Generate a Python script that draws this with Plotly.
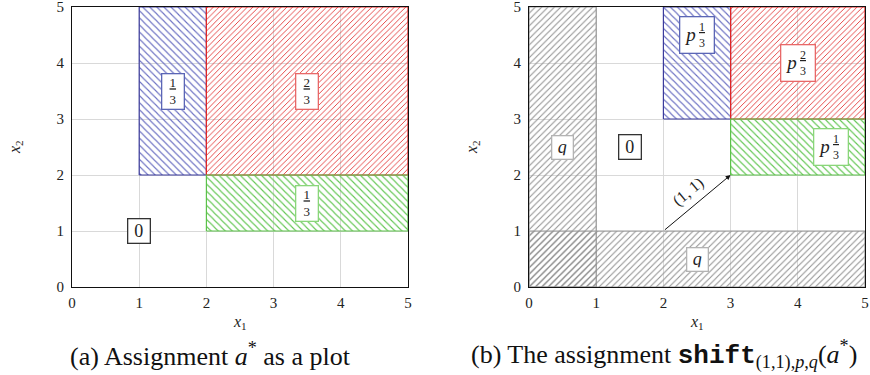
import plotly.graph_objects as go

# ---------------- data ----------------
tick_vals = [0, 1, 2, 3, 4, 5]

# panel (a): rectangles given by their edges
a_x0 = [1, 2, 2]
a_x1 = [2, 5, 5]
a_y0 = [2, 2, 1]
a_y1 = [5, 5, 2]
a_kind = ["blue", "red", "green"]

a_label_x = [1.5, 3.5, 3.5, 1.0]
a_label_y = [3.5, 3.5, 1.5, 1.0]
a_label_coef = ["", "", "", ""]
a_label_val = ["1/3", "2/3", "1/3", "0"]
a_label_kind = ["blue", "red", "green", "black"]

# panel (b): shifted assignment
b_x0 = [0, 0, 2, 3, 3]
b_x1 = [1, 5, 3, 5, 5]
b_y0 = [0, 0, 3, 3, 2]
b_y1 = [5, 1, 5, 5, 3]
b_kind = ["gray", "gray", "blue", "red", "green"]

b_label_x = [0.5, 2.5, 2.5, 4.0, 4.5, 1.5]
b_label_y = [2.5, 0.5, 4.5, 4.0, 2.5, 2.5]
b_label_coef = ["q", "q", "p", "p", "p", ""]
b_label_val = ["", "", "1/3", "2/3", "1/3", "0"]
b_label_kind = ["gray", "gray", "blue", "red", "green", "black"]

shift_start = [2, 1]
shift_vec = [1, 1]

caption_a = "(a) Assignment <i>a</i><sup>*</sup> as a plot"
caption_b = ("(b) The assignment <span style=\"font-family:'Liberation Mono', monospace\"><b>shift</b></span>"
             "<sub>(1,1),<i>p</i>,<i>q</i></sub>(<i>a</i><sup>*</sup>)")

# ---------------- styles ----------------
FONT = "'Liberation Serif', 'DejaVu Serif', serif"
TXT = "#222222"
STYLE = {
    "blue": dict(line="#3b3b9c", hatch="#6b70c2", shape="\\", size=5, box="#5b66b6"),
    "red": dict(line="#e02525", hatch="#e23434", shape="/", size=4, box="#e86868"),
    "green": dict(line="#5cc24a", hatch="#62c652", shape="\\", size=5, box="#8ad67a"),
    "gray": dict(line="#999999", hatch="#8e8e8e", shape="/", size=4.5, box="#b3b3b3"),
    "black": dict(box="#333333"),
}

W, H = 870, 375
def px(x):
    return x / W
def py(y):
    return 1 - y / H

fig = go.Figure()

def add_rects(x0s, x1s, y0s, y1s, kinds, xa, ya):
    for x0, x1, y0, y1, k in zip(x0s, x1s, y0s, y1s, kinds):
        s = STYLE[k]
        fig.add_trace(go.Scatter(
            x=[x0, x1, x1, x0, x0], y=[y0, y0, y1, y1, y0],
            mode="lines", fill="toself", fillcolor="rgba(0,0,0,0)",
            fillpattern=dict(shape=s["shape"], size=s["size"], solidity=0.22,
                             fgcolor=s["hatch"], bgcolor="rgba(0,0,0,0)",
                             fillmode="replace"),
            line=dict(color=s["line"], width=1.2),
            hoverinfo="skip", showlegend=False, xaxis=xa, yaxis=ya))

add_rects(a_x0, a_x1, a_y0, a_y1, a_kind, "x", "y")
add_rects(b_x0, b_x1, b_y0, b_y1, b_kind, "x2", "y2")

def frac(v):
    n, d = v.split("/")
    return "<u>%s</u><br>%s" % (n, d)

def add_labels(xs, ys, coefs, vals, kinds, xr, yr):
    for x, y, c, v, k in zip(xs, ys, coefs, vals, kinds):
        col = STYLE[k]["box"]
        base = dict(x=x, y=y, xref=xr, yref=yr, showarrow=False,
                    xanchor="center", yanchor="middle",
                    bgcolor="white", bordercolor=col, borderwidth=1.3)
        if c == "" and "/" in v:
            fig.add_annotation(text=frac(v), font=dict(family=FONT, size=13, color=TXT),
                               width=17, height=30, borderpad=2, **base)
        elif c == "":
            fig.add_annotation(text=v, font=dict(family=FONT, size=18, color=TXT),
                               width=15, height=17, borderpad=3, **base)
        elif v == "":
            fig.add_annotation(text="<i>%s</i>" % c, font=dict(family=FONT, size=18, color=TXT),
                               width=14, height=16, borderpad=3, **base)
        else:
            fig.add_annotation(text="<i>%s</i>" % c, font=dict(family=FONT, size=19, color=TXT),
                               width=25, height=27, borderpad=4, align="left", **base)
            fig.add_annotation(x=x, y=y, xref=xr, yref=yr, showarrow=False,
                               xanchor="center", yanchor="middle",
                               text=frac(v), font=dict(family=FONT, size=12, color=TXT),
                               xshift=5)

add_labels(a_label_x, a_label_y, a_label_coef, a_label_val, a_label_kind, "x", "y")
add_labels(b_label_x, b_label_y, b_label_coef, b_label_val, b_label_kind, "x2", "y2")

# shift arrow
end = [shift_start[0] + shift_vec[0], shift_start[1] + shift_vec[1]]
fig.add_annotation(x=end[0], y=end[1], ax=shift_start[0], ay=shift_start[1],
                   xref="x2", yref="y2", axref="x2", ayref="y2", text="",
                   showarrow=True, arrowhead=2, arrowsize=1, arrowwidth=1,
                   arrowcolor="#111111", standoff=0, startstandoff=0)
fig.add_annotation(x=(shift_start[0] + end[0]) / 2, y=(shift_start[1] + end[1]) / 2,
                   xref="x2", yref="y2", showarrow=False, xanchor="center", yanchor="middle",
                   text="(%d, %d)" % tuple(shift_vec), textangle=-40,
                   font=dict(family=FONT, size=16, color=TXT), xshift=-9, yshift=11)

# axis titles
for cx in [(72 + 408) / 2, (529 + 865) / 2]:
    fig.add_annotation(x=px(cx), y=py(322), xref="paper", yref="paper", showarrow=False,
                       xanchor="center", yanchor="middle",
                       text="<i>x</i><sub>1</sub>", font=dict(family=FONT, size=16, color=TXT))
for cx in [15, 472]:
    fig.add_annotation(x=px(cx), y=py(147), xref="paper", yref="paper", showarrow=False,
                       xanchor="center", yanchor="middle",
                       text="<i>x</i><sub>2</sub>", textangle=-90,
                       font=dict(family=FONT, size=16, color=TXT))

# captions
fig.add_annotation(x=px(210), y=py(354), xref="paper", yref="paper", showarrow=False,
                   xanchor="center", yanchor="middle",
                   text=caption_a, font=dict(family=FONT, size=26, color="#111111"))
fig.add_annotation(x=px(664), y=py(354), xref="paper", yref="paper", showarrow=False,
                   xanchor="center", yanchor="middle",
                   text=caption_b, font=dict(family=FONT, size=26, color="#111111"))

axis_common = dict(range=[0, 5], tickvals=tick_vals, ticks="", showgrid=True,
                   gridcolor="#d9d9d9", gridwidth=1, zeroline=False, showline=True,
                   linecolor="#111111", linewidth=1.2, mirror=True, layer="below traces",
                   tickfont=dict(family=FONT, size=15, color=TXT), fixedrange=True,
                   automargin=False, ticklabeloverflow="allow")

fig.update_layout(
    width=W, height=H, margin=dict(l=0, r=0, t=0, b=0, autoexpand=False),
    paper_bgcolor="white", plot_bgcolor="white", showlegend=False,
    font=dict(family=FONT),
    xaxis=dict(domain=[px(72), px(408)], anchor="y", ticklabelstandoff=2, **axis_common),
    yaxis=dict(domain=[py(287), py(7)], anchor="x", ticklabelstandoff=4, **axis_common),
    xaxis2=dict(domain=[px(529), px(865)], anchor="y2", ticklabelstandoff=2, **axis_common),
    yaxis2=dict(domain=[py(287), py(7)], anchor="x2", ticklabelstandoff=4, **axis_common),
)

fig.write_html("out.html", config={"displayModeBar": False},
               post_script="document.body.style.margin='0';document.body.style.overflow='hidden';")
